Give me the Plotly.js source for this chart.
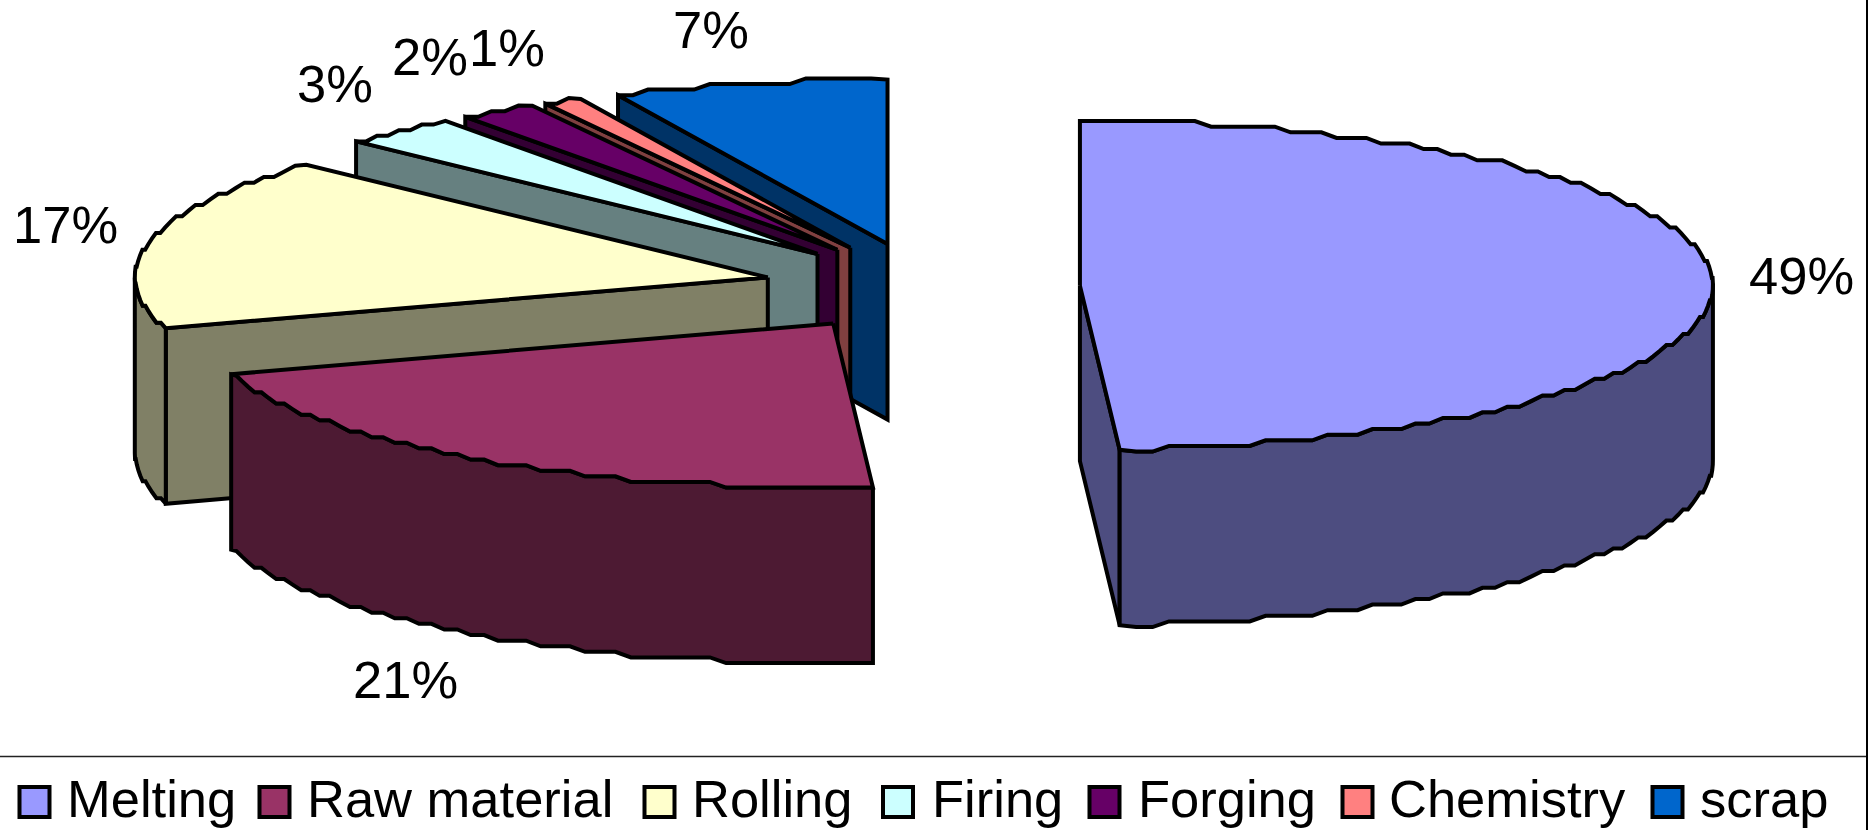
<!DOCTYPE html>
<html>
<head>
<meta charset="utf-8">
<script src="https://cdn.plot.ly/plotly-3.0.1.min.js"></script>
<style>html,body{margin:0;padding:0;background:#fff}</style>
</head>
<body>
<div id="chart" style="width:1872px;height:830px"></div>
<script>
// Share of energy use by process, in percent
const categories = ['Melting', 'Raw material', 'Rolling', 'Firing', 'Forging', 'Chemistry', 'scrap'];
const shares = [49, 21, 17, 3, 2, 1, 7];

const topColors = ['#9999FF', '#993366', '#FFFFCC', '#CCFFFF', '#660066', '#FF8080', '#0066CC'];
const sideColors = ['#4D4D80', '#4D1A33', '#808066', '#668080', '#330033', '#804040', '#003366'];

// Projection of the tilted pie, in plot units
const pie = { cx: 922, cy: 287, rx: 633, ry: 164.5, depth: 175.5, pullX: 158, pullY: 44 };
const outline = { color: '#000000', width: 4 };
// Rim vertices: spacing along the arc and the vertical raster they snap to
const rimStepDeg = 1.5;
const rimSnapY = 5.6;

// Where each percentage sits relative to the middle of its slice's rim
const labelNudge = [[89, -5], [-72, 220], [-85, -17], [-64, -47], [-68, -54], [-56, -54], [-38, -54]];
// Centre of each legend swatch
const legendSwatchX = [34.5, 274.5, 659.5, 898, 1104.5, 1357.5, 1667.5];
const legendTextX = [65, 305, 690, 930, 1136, 1387, 1698];
const legendY = 802;
const paintOrder = [0, 6, 5, 4, 3, 2, 1];

const rad = d => d * Math.PI / 180;

const slices = [];
let running = 0;
shares.forEach(share => {
  const start = running / 100 * 360;
  running += share;
  const end = running / 100 * 360;
  const mid = (start + end) / 2;
  slices.push({
    start, end, mid,
    ox: pie.cx + pie.pullX * Math.sin(rad(mid)),
    oy: pie.cy - pie.pullY * Math.cos(rad(mid))
  });
});

function rimPoint(s, deg) {
  return [s.ox + pie.rx * Math.sin(rad(deg)), s.oy - pie.ry * Math.cos(rad(deg))];
}

// Rim vertices with their angles; the two ends stay exact, the rest snap to the raster
function rim(s) {
  const first = rimPoint(s, s.start);
  const verts = [{ deg: s.start, p: first }];
  const count = Math.max(1, Math.ceil((s.end - s.start) / rimStepDeg));
  for (let k = 1; k < count; k++) {
    const deg = s.start + (s.end - s.start) * k / count;
    const p = rimPoint(s, deg);
    verts.push({ deg, p: [p[0], first[1] + Math.round((p[1] - first[1]) / rimSnapY) * rimSnapY] });
  }
  verts.push({ deg: s.end, p: rimPoint(s, s.end) });
  return verts;
}

function polygon(points, fill) {
  return {
    type: 'scatter', mode: 'lines', fill: 'toself', fillcolor: fill,
    x: points.map(p => p[0]).concat(points[0][0]),
    y: points.map(p => p[1]).concat(points[0][1]),
    line: { color: outline.color, width: outline.width, simplify: false },
    hoverinfo: 'skip', showlegend: false
  };
}

const down = p => [p[0], p[1] + pie.depth];
const traces = [];

paintOrder.forEach(i => {
  const s = slices[i];
  const apex = [s.ox, s.oy];
  const verts = rim(s);
  const arc = verts.map(v => v.p);
  const first = arc[0];
  const last = arc[arc.length - 1];
  // Cut faces that turn toward the viewer
  if (Math.sin(rad(s.start)) < -1e-6) traces.push(polygon([apex, first, down(first), down(apex)], sideColors[i]));
  if (Math.sin(rad(s.end)) > 1e-6) traces.push(polygon([apex, last, down(last), down(apex)], sideColors[i]));
  // Outer wall along the near half of the rim
  const front = verts.filter(v => Math.cos(rad(v.deg)) <= 0.02).map(v => v.p);
  if (front.length > 1) traces.push(polygon(front.concat(front.slice().reverse().map(down)), sideColors[i]));
  traces.push(polygon([apex].concat(arc), topColors[i]));
});

// Legend swatches
traces.push({
  type: 'scatter', mode: 'markers',
  x: legendSwatchX,
  y: categories.map(() => legendY),
  marker: { symbol: 'square', size: 30, color: topColors, line: { color: outline.color, width: outline.width } },
  hoverinfo: 'skip', showlegend: false
});

const textFont = { family: '"Liberation Sans", Arial, sans-serif', size: 52.5, color: '#000000' };

const annotations = [];
shares.forEach((share, i) => {
  const s = slices[i];
  const p = rimPoint(s, s.mid);
  annotations.push({
    x: p[0] + labelNudge[i][0], y: p[1] + labelNudge[i][1],
    text: share + '%', showarrow: false, xanchor: 'center', yanchor: 'middle', font: textFont
  });
  annotations.push({
    x: legendTextX[i], y: legendY - 4,
    text: categories[i], showarrow: false, xanchor: 'left', yanchor: 'middle', font: textFont
  });
});

const layout = {
  width: 1872, height: 830,
  margin: { l: 0, r: 0, t: 0, b: 0 },
  paper_bgcolor: '#ffffff', plot_bgcolor: '#ffffff',
  showlegend: false,
  xaxis: { range: [0, 1872], visible: false, fixedrange: true },
  yaxis: { range: [830, 0], visible: false, fixedrange: true },
  annotations,
  shapes: [
    { type: 'line', xref: 'x', yref: 'y', x0: 0, x1: 1867, y0: 756.5, y1: 756.5, line: { color: '#222222', width: 1.5 } },
    { type: 'line', xref: 'x', yref: 'y', x0: 1867, x1: 1867, y0: 0, y1: 830, line: { color: '#000000', width: 2 } }
  ]
};

Plotly.newPlot('chart', traces, layout, { displayModeBar: false, staticPlot: true });
</script>
</body>
</html>
